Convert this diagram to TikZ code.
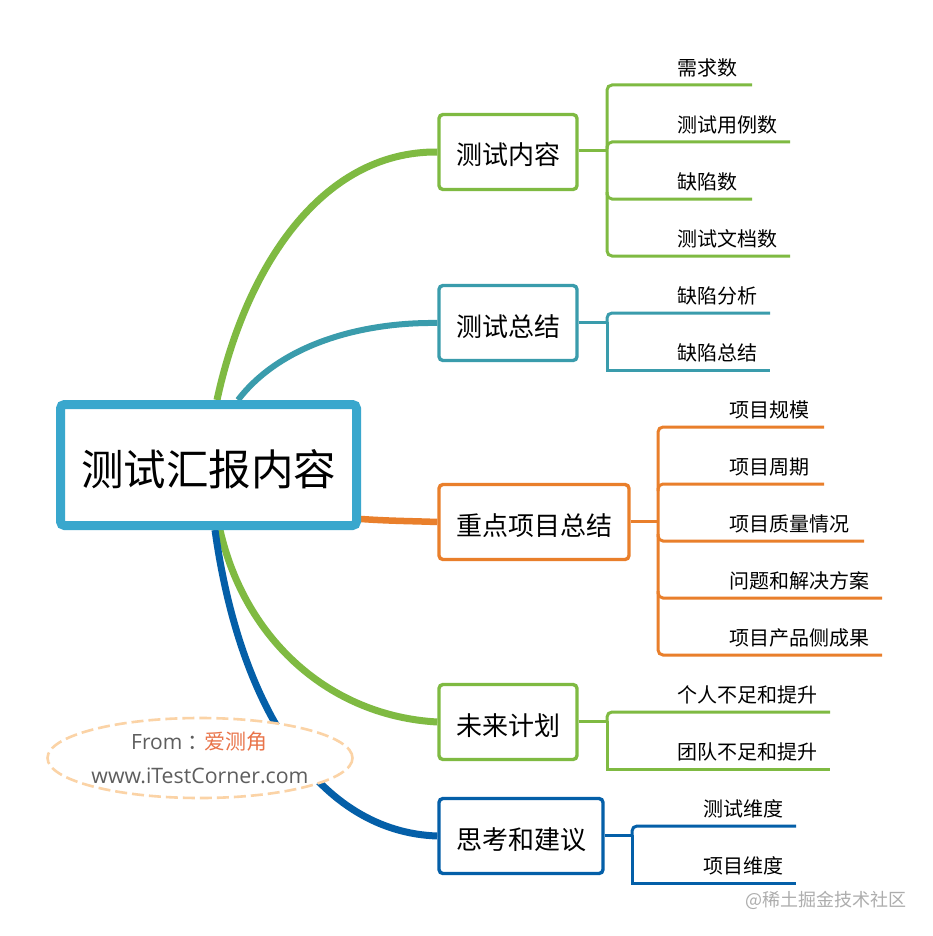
\documentclass[tikz,border=0pt]{standalone}
\usepackage{fontspec}
\setmainfont{Noto Sans CJK SC}
\newfontfamily\latinf{Open Sans}
\usetikzlibrary{shapes.geometric,calc,backgrounds}
\definecolor{cgreen}{HTML}{7FBA42}
\definecolor{cteal}{HTML}{3A9CAC}
\definecolor{corange}{HTML}{E97F2B}
\definecolor{cblue}{HTML}{045FA8}
\definecolor{croot}{HTML}{39A7CD}
\definecolor{cdash}{HTML}{FBD3A6}
\definecolor{cgreytext}{HTML}{5E5E5E}
\definecolor{cfrom}{HTML}{E9744A}
\tikzset{
  x=1pt,y=-1pt,
  rootbox/.style={draw=croot,line width=9pt,rounded corners=4pt,fill=white,minimum width=296pt,minimum height=121pt,inner sep=0pt,text height=40pt,text depth=0pt,font=\fontsize{42.5}{46}\selectfont},
  topicbox/.style={draw=#1,line width=3.4pt,rounded corners=4pt,fill=white,minimum height=75pt,inner sep=0pt,text height=26pt,text depth=0pt,font=\fontsize{26}{30}\selectfont},
  leaf/.style={anchor=west,inner sep=0pt,yshift=-1pt,font=\fontsize{20}{24}\selectfont},
  curve/.style={draw=#1,line cap=butt},
  tree/.style={draw=#1,line width=3pt,rounded corners=5pt},
  stub/.style={draw=#1,line width=3pt},
}
\begin{document}
\begin{tikzpicture}
\useasboundingbox (0,0) rectangle (932,936);

% main nodes
\node[rootbox] (root) at (208.5,465) {测试汇报内容};
\node[topicbox=cgreen,minimum width=138pt] (b1) at (508,152) {测试内容};
\node[topicbox=cteal,minimum width=138pt] (b2) at (508,323) {测试总结};
\node[topicbox=corange,minimum width=190pt] (b3) at (534,522) {重点项目总结};
\node[topicbox=cgreen,minimum width=138pt] (b4) at (508,722) {未来计划};
\node[topicbox=cblue,minimum width=164pt] (b5) at (521,836) {思考和建议};

% free ends on the root box
\coordinate (r1) at (217,400);
\coordinate (r2) at (238,400);
\coordinate (r3) at (361,519);
\coordinate (r4) at (220,530);
\coordinate (r5) at (215,530);

% trunks
\coordinate (t1) at (607,151);
\coordinate (t2) at (607,322);
\coordinate (t3) at (658,521);
\coordinate (t4) at (607,721);
\coordinate (t5) at (632,835);

% leaf line ends
\coordinate (e11) at (752,85);
\coordinate (e12) at (790,142);
\coordinate (e13) at (752,199);
\coordinate (e14) at (790,256);
\coordinate (e21) at (770,313);
\coordinate (e22) at (770,370);
\coordinate (e31) at (824,427);
\coordinate (e32) at (824,484);
\coordinate (e33) at (864,541);
\coordinate (e34) at (882,598);
\coordinate (e35) at (882,655);
\coordinate (e41) at (830,712);
\coordinate (e42) at (830,769);
\coordinate (e51) at (796,826);
\coordinate (e52) at (796,883);

% leaf labels
\node[leaf] (l11) at (677,67) {需求数};
\node[leaf] (l12) at (677,124) {测试用例数};
\node[leaf] (l13) at (677,181) {缺陷数};
\node[leaf] (l14) at (677,238) {测试文档数};
\node[leaf] (l21) at (677,295) {缺陷分析};
\node[leaf] (l22) at (677,352) {缺陷总结};
\node[leaf] (l31) at (729,409) {项目规模};
\node[leaf] (l32) at (729,466) {项目周期};
\node[leaf] (l33) at (729,523) {项目质量情况};
\node[leaf] (l34) at (729,580) {问题和解决方案};
\node[leaf] (l35) at (729,637) {项目产品侧成果};
\node[leaf] (l41) at (677,694) {个人不足和提升};
\node[leaf] (l42) at (677,751) {团队不足和提升};
\node[leaf] (l51) at (703,808) {测试维度};
\node[leaf] (l52) at (703,865) {项目维度};

% curved connectors, behind the boxes
\begin{scope}[on background layer]
\fill[white] (0,0) rectangle (932,936);
\draw[curve=cgreen,line width=7pt] (r1) .. controls (245,270) and (320,151) .. (b1.west);
\draw[curve=cteal,line width=6pt] (r2) .. controls (280,345) and (360,322) .. (b2.west);
\draw[curve=corange,line width=6.5pt] (r3) .. controls (390,521) and (410,521) .. (b3.west);
\draw[curve=cgreen,line width=7pt] (r4) .. controls (245,640) and (330,716) .. (b4.west);
\draw[curve=cblue,line width=7pt] (r5) .. controls (240,710) and (320,832) .. (b5.west);
\end{scope}

% stubs
\draw[stub=cgreen] (b1.east |- t1) -- (t1);
\draw[stub=cteal] (b2.east |- t2) -- (t2);
\draw[stub=corange] (b3.east |- t3) -- (t3);
\draw[stub=cgreen] (b4.east |- t4) -- (t4);
\draw[stub=cblue] (b5.east |- t5) -- (t5);

% trees
\draw[tree=cgreen] (e11) -- (e11 -| t1) -- (e14 -| t1) -- (e14);
\draw[tree=cgreen] ($(e12 -| t1)+(0,7)$) -- (e12 -| t1) -- (e12);
\draw[tree=cgreen] ($(e13 -| t1)+(0,-7)$) -- (e13 -| t1) -- (e13);
\draw[tree=cteal] (e21) -- (e21 -| t2) -- (t2);
\draw[stub=cteal] (t2) -- (e22 -| t2) -- (e22);
\draw[tree=corange] (e31) -- (e31 -| t3) -- (e35 -| t3) -- (e35);
\draw[tree=corange] ($(e32 -| t3)+(0,7)$) -- (e32 -| t3) -- (e32);
\draw[tree=corange] ($(e33 -| t3)+(0,-7)$) -- (e33 -| t3) -- (e33);
\draw[tree=corange] ($(e34 -| t3)+(0,-7)$) -- (e34 -| t3) -- (e34);
\draw[tree=cgreen] (e41) -- (e41 -| t4) -- (t4);
\draw[stub=cgreen] (t4) -- (e42 -| t4) -- (e42);
\draw[tree=cblue] (e51) -- (e51 -| t5) -- (t5);
\draw[stub=cblue] (t5) -- (e52 -| t5) -- (e52);

% note
\node[ellipse,draw=cdash,line width=2.6pt,dash pattern=on 12pt off 5pt,fill=white,minimum width=305pt,minimum height=80pt,inner sep=0pt] (note) at (200,758) {};
\node[inner sep=0pt,text=cgreytext,font=\fontsize{21}{24}\selectfont\latinf,anchor=base west] (from) at (131,749) {From\kern5.5pt{\fontspec{Noto Sans CJK SC}：\kern-4pt\color{cfrom}爱测角}};
\node[inner sep=0pt,text=cgreytext,font=\fontsize{21.3}{24}\selectfont\latinf,anchor=base] (url) at (200,783) {www.iTestCorner.com};

% watermark
\node[inner sep=0pt,text=black!32,font=\fontsize{18}{22}\selectfont,anchor=east] (mark) at (907,900) {@稀土掘金技术社区};
\end{tikzpicture}
\end{document}
